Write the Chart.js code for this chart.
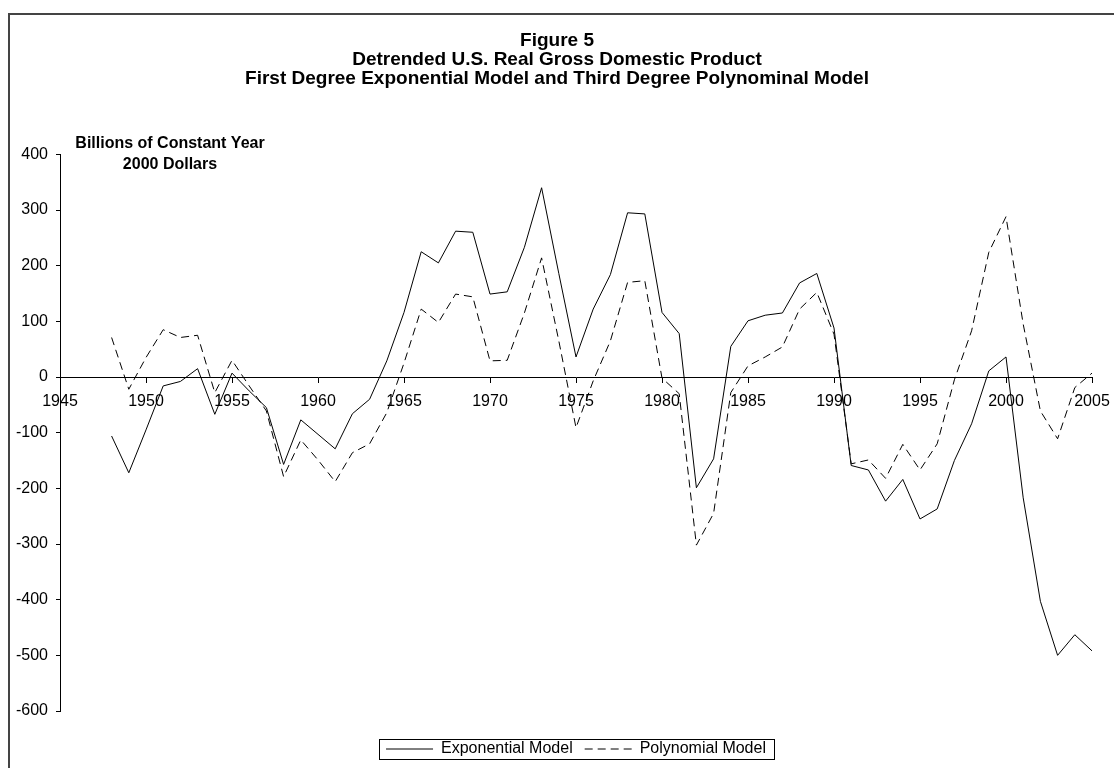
<!DOCTYPE html>
<html>
<head>
<meta charset="utf-8">
<script src="https://cdn.jsdelivr.net/npm/chart.js@4.4.0/dist/chart.umd.min.js"></script>
<style>
  html, body { margin: 0; padding: 0; background: #fff; }
  #wrap { width: 1114px; height: 768px; }
</style>
</head>
<body>
<div id="wrap"><canvas id="gdpChart" width="1114" height="768"></canvas></div>
<script>
const years = [
  1948, 1949, 1950, 1951, 1952, 1953, 1954, 1955, 1956, 1957,
  1958, 1959, 1960, 1961, 1962, 1963, 1964, 1965, 1966, 1967,
  1968, 1969, 1970, 1971, 1972, 1973, 1974, 1975, 1976, 1977,
  1978, 1979, 1980, 1981, 1982, 1983, 1984, 1985, 1986, 1987,
  1988, 1989, 1990, 1991, 1992, 1993, 1994, 1995, 1996, 1997,
  1998, 1999, 2000, 2001, 2002, 2003, 2004, 2005
];

// billions of constant year 2000 dollars
const exponentialModel = [
  -106, -172, -95, -16, -8, 15, -67, 7, -25, -55,
  -157, -77, -103, -129, -66, -40, 29, 116, 225, 205,
  262, 260, 149, 153, 233, 340, 186, 36, 122, 184,
  295, 293, 116, 78, -199, -147, 55, 101, 111, 115,
  169, 186, 88, -159, -167, -223, -184, -255, -237, -150,
  -84, 11, 36, -217, -403, -500, -463, -492
];

const polynomialModel = [
  71, -22, 35, 85, 71, 75, -28, 30, -16, -61,
  -179, -113, -149, -188, -136, -120, -64, 25, 122, 98,
  149, 144, 29, 30, 115, 214, 65, -91, -7, 65,
  170, 173, -2, -30, -302, -245, -28, 20, 36, 54,
  122, 152, 77, -156, -149, -182, -121, -167, -120, -5,
  83, 224, 288, 95, -61, -111, -19, 7
];

const titleLines = [
  "Figure 5",
  "Detrended U.S. Real Gross Domestic Product",
  "First Degree Exponential Model and Third Degree Polynominal Model"
];
const unitLines = ["Billions of Constant Year", "2000 Dollars"];

Chart.defaults.font.family = "'Liberation Sans', Arial, sans-serif";
Chart.defaults.color = "#000";

function toPoints(values) {
  return values.map((v, i) => ({ x: years[i], y: v }));
}

// outer frame, unit caption and the box round the legend
const framePlugin = {
  id: "frame",
  beforeDraw(chart) {
    const ctx = chart.ctx;
    ctx.save();
    ctx.fillStyle = "#fff";
    ctx.fillRect(0, 0, chart.width, chart.height);
    ctx.strokeStyle = "#444";
    ctx.lineWidth = 2;
    ctx.strokeRect(9, 14, 1300, 900);
    ctx.restore();
  },
  afterDraw(chart) {
    const ctx = chart.ctx;
    ctx.save();
    ctx.fillStyle = "#000";
    ctx.font = "bold 16px 'Liberation Sans', Arial, sans-serif";
    ctx.textAlign = "center";
    ctx.textBaseline = "middle";
    ctx.fillText(unitLines[0], 170, 144);
    ctx.fillText(unitLines[1], 170, 165);

    const boxes = chart.legend.legendHitBoxes;
    if (boxes && boxes.length) {
      const left = Math.min(...boxes.map(b => b.left)) - 7;
      const right = Math.max(...boxes.map(b => b.left + b.width)) + 8;
      const cy = boxes[0].top + boxes[0].height / 2;
      ctx.strokeStyle = "#000";
      ctx.lineWidth = 1;
      ctx.setLineDash([]);
      ctx.strokeRect(Math.round(left) + 0.5, Math.round(cy - 10) + 0.5, Math.round(right - left), 20);
    }
    ctx.restore();
  }
};

const ctx = document.getElementById("gdpChart").getContext("2d");

new Chart(ctx, {
  type: "line",
  data: {
    datasets: [
      {
        label: "Exponential Model",
        data: toPoints(exponentialModel),
        borderColor: "#000",
        backgroundColor: "#000",
        borderWidth: 1,
        pointRadius: 0,
        tension: 0,
      },
      {
        label: "Polynomial Model",
        data: toPoints(polynomialModel),
        borderColor: "#000",
        backgroundColor: "#000",
        borderWidth: 1,
        borderDash: [8, 5],
        pointRadius: 0,
        tension: 0,
      },
    ],
  },
  options: {
    responsive: false,
    animation: false,
    devicePixelRatio: 1,
    layout: {
      padding: { left: 0, right: 0, top: 0, bottom: 1 },
    },
    scales: {
      x: {
        type: "linear",
        position: { y: 0 },
        min: 1945,
        max: 2005,
        ticks: {
          stepSize: 5,
          padding: 10,
          font: { size: 16 },
          color: "#000",
          callback: (v) => String(v),
        },
        grid: { drawOnChartArea: false, tickLength: 5, color: "#000" },
        border: { color: "#000", width: 1 },
        afterFit: (scale) => { scale.paddingLeft = 0; scale.paddingRight = 0; },
      },
      y: {
        min: -600,
        max: 400,
        ticks: {
          stepSize: 100,
          padding: 8,
          font: { size: 16 },
          color: "#000",
        },
        grid: { drawOnChartArea: false, tickLength: 4, color: "#000" },
        border: { color: "#000", width: 1 },
        afterFit: (scale) => { scale.width = 60; },
      },
      yRight: {
        position: "right",
        display: true,
        ticks: { display: false },
        grid: { display: false },
        border: { display: false },
        afterFit: (scale) => { scale.width = 22; },
      },
    },
    plugins: {
      title: {
        display: true,
        text: titleLines,
        color: "#000",
        font: { size: 19, weight: "bold", lineHeight: 0.985 },
        padding: { top: 31.6, bottom: 66.6 },
      },
      legend: {
        position: "bottom",
        fullSize: false,
        labels: {
          usePointStyle: true,
          pointStyle: "line",
          pointStyleWidth: 47,
          padding: 12,
          font: { size: 16 },
          color: "#000",
          generateLabels: (chart) =>
            Chart.defaults.plugins.legend.labels.generateLabels(chart).map((item) => ({
              ...item,
              strokeStyle: "#000",
              lineWidth: 1,
              lineDash: chart.data.datasets[item.datasetIndex].borderDash || [],
            })),
        },
        title: {
          display: true,
          text: "",
          padding: { top: 17, bottom: 0 },
          font: { size: 1, lineHeight: 1 },
        },
      },
      tooltip: { enabled: false },
    },
  },
  plugins: [framePlugin],
});
</script>
</body>
</html>
